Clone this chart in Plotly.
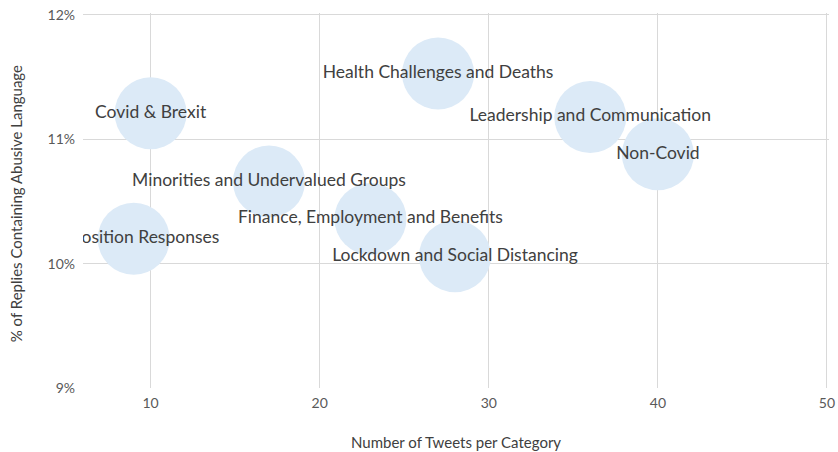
import plotly.graph_objects as go

categories = ["Covid & Brexit", "Health Challenges and Deaths", "Leadership and Communication",
              "Non-Covid", "Minorities and Undervalued Groups", "Finance, Employment and Benefits",
              "Lockdown and Social Distancing", "Opposition Responses"]
tweets = [10, 27, 36, 40, 17, 23, 28, 9]
abusive_pct = [11.21, 11.53, 11.18, 10.88, 10.66, 10.36, 10.06, 10.2]

x_ticks = [10, 20, 30, 40, 50]
y_ticks = [9, 10, 11, 12]
y_tick_labels = ["9%", "10%", "11%", "12%"]

fig = go.Figure()
fig.add_trace(go.Scatter(
    x=tweets, y=abusive_pct, text=categories,
    mode="markers+text", textposition="middle center",
    marker=dict(size=72, color="rgb(220,234,247)", line=dict(width=0), opacity=1),
    textfont=dict(family="Lato", size=17.5, color="#404040"),
    cliponaxis=True, hoverinfo="skip", showlegend=False,
))

axis_font = dict(family="Lato", size=14, color="#595959")
title_font = dict(family="Lato", size=15, color="#404040")

fig.update_layout(
    width=838, height=452,
    margin=dict(l=83, r=9, t=13, b=64),
    paper_bgcolor="white", plot_bgcolor="white",
    xaxis=dict(range=[6, 50.12], tickvals=x_ticks, showgrid=True, gridcolor="#d9d9d9", gridwidth=1,
               zeroline=False, showline=False, tickfont=axis_font, ticks="", automargin=False,
               ticklabelstandoff=5),
    yaxis=dict(range=[9, 12.016], tickvals=y_ticks, ticktext=y_tick_labels, showgrid=True, gridcolor="#d9d9d9",
               gridwidth=1, zeroline=False, showline=False, tickfont=axis_font, ticks="", automargin=False,
               ticklabelstandoff=7),
    annotations=[
        dict(text="Number of Tweets per Category", xref="paper", yref="paper", x=0.5, y=0,
             yshift=-54, xanchor="center", yanchor="middle", showarrow=False, font=title_font),
        dict(text="% of Replies Containing Abusive Language", xref="paper", yref="paper", x=0, y=0.49,
             xshift=-67, xanchor="center", yanchor="middle", textangle=-90, showarrow=False, font=title_font),
    ],
)
fig.write_html("out.html", config={"displayModeBar": False},
               post_script="document.body.style.margin='0';document.body.style.overflow='hidden';")
